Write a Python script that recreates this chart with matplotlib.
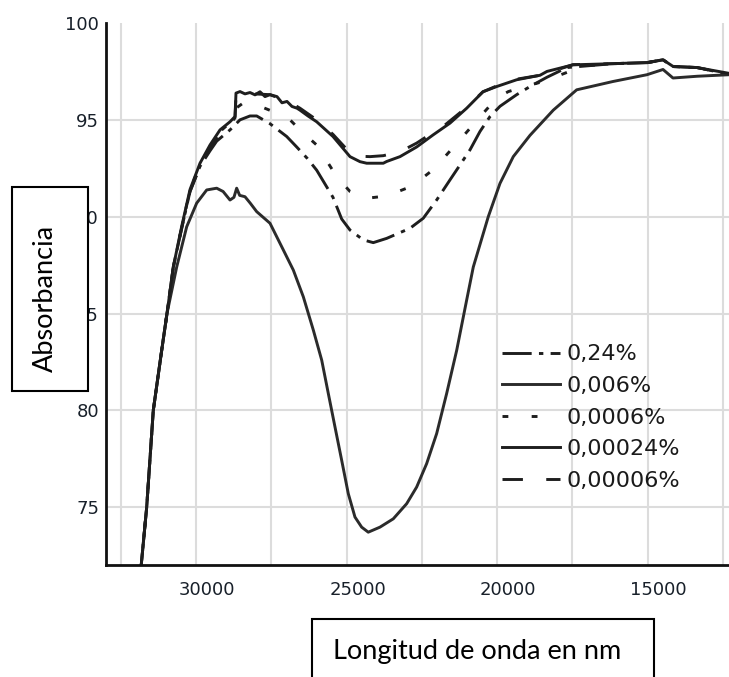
import matplotlib
matplotlib.use("Agg")
import matplotlib.pyplot as plt
import matplotlib.patches as patches
import matplotlib.transforms as mtransforms

# x axis runs from high to low values; absorbance
x_top = [31880, 31637, 31418, 31139, 30963, 30754, 30475, 30199, 29867, 29535,
         29203, 28871, 28705, 28672, 28539, 28373, 28207, 28041, 27875, 27709,
         27543, 27311, 27145, 26979, 26813, 26647, 26547, 26282, 25993, 25452,
         24887, 24555, 24333, 23782, 23669, 23227, 22673, 22130, 21567, 21013,
         20472, 20016, 19352, 18580, 18347, 17483, 16154, 15026, 14495, 14163,
         13366, 12300]
y_top = [71.0, 75.0, 80.0, 83.1, 85.0, 87.4, 89.5, 91.4, 92.76, 93.7,
         94.48, 94.9, 95.17, 96.38, 96.46, 96.34, 96.41, 96.29, 96.45, 96.2,
         96.3, 96.2, 95.88, 95.95, 95.69, 95.6, 95.5, 95.2, 94.9, 94.14,
         93.1, 92.84, 92.76, 92.76, 92.85, 93.1, 93.6, 94.22, 94.83, 95.6,
         96.45, 96.72, 97.07, 97.3, 97.5, 97.84, 97.9, 97.96, 98.1, 97.76,
         97.7, 97.4]

x_dashed = [31880, 31637, 31418, 31139, 30963, 30754, 30475, 30199, 29867, 29535,
            29203, 28871, 28705, 28672, 28207, 27543, 26879, 26547, 25993, 25452,
            24887, 24555, 24222, 23782, 23227, 22673, 22130, 21800, 21013, 20472,
            20016, 19352, 18580, 17483, 16154, 15026, 14495, 14163, 13366, 12300]
y_dashed = [71.0, 75.0, 80.0, 83.1, 85.0, 87.4, 89.4, 91.3, 92.6, 93.5,
            94.3, 94.8, 95.1, 96.2, 96.35, 96.3, 95.9, 95.6, 95.0, 94.25,
            93.3, 93.12, 93.1, 93.15, 93.35, 93.8, 94.35, 94.65, 95.65, 96.45,
            96.75, 97.1, 97.3, 97.85, 97.9, 97.95, 98.1, 97.75, 97.7, 97.35]

x_dotted = [31880, 31637, 31418, 31139, 30963, 30754, 30475, 30199, 29867, 29535,
            29203, 28871, 28705, 28672, 28440, 27875, 27321, 26879, 26547, 25993,
            25329, 24887, 24333, 23669, 23005, 22563, 22065, 21677, 21235, 20847,
            20460, 20017, 19629, 18900, 18468, 17600, 17000, 16154, 15026, 14495,
            14163, 13366, 12300]
y_dotted = [71.0, 75.0, 80.0, 83.1, 85.0, 87.4, 89.45, 91.35, 92.7, 93.6,
            94.4, 94.85, 95.1, 95.6, 95.86, 95.7, 95.35, 95.0, 94.48, 93.7,
            92.07, 91.3, 90.95, 91.07, 91.47, 91.9, 92.5, 93.2, 93.97, 94.66,
            95.35, 96.12, 96.46, 96.8, 96.98, 97.5, 97.8, 97.9, 97.95, 98.1,
            97.75, 97.7, 97.35]

x_dashdot = [31880, 31637, 31418, 31139, 30963, 30754, 30475, 30199, 29867, 29535,
             29313, 28871, 28539, 28207, 27985, 27543, 26989, 26657, 26300, 25993,
             25452, 25163, 24887, 24446, 24114, 23669, 22895, 22454, 22010, 21567,
             21235, 20903, 20571, 20239, 19907, 19353, 18911, 18347, 17683, 16154,
             15026, 14495, 14163, 13366, 12300]
y_dashdot = [71.0, 75.0, 80.0, 83.1, 85.0, 87.4, 89.4, 91.3, 92.6, 93.4,
             93.9, 94.48, 95.0, 95.2, 95.2, 94.8, 94.14, 93.6, 93.0, 92.4,
             91.0, 89.88, 89.31, 88.8, 88.66, 88.88, 89.4, 89.92, 90.86, 91.9,
             92.67, 93.45, 94.4, 95.17, 95.7, 96.3, 96.72, 97.2, 97.7, 97.9,
             97.95, 98.1, 97.75, 97.7, 97.35]

x_deep = [31880, 31637, 31418, 31139, 30963, 30641, 30309, 29977, 29645, 29313,
          29100, 28871, 28740, 28650, 28550, 28373, 28200, 27985, 27543, 27100,
          26768, 26436, 26104, 25826, 25607, 25385, 25163, 24944, 24722, 24500,
          24281, 23892, 23450, 23006, 22674, 22342, 22010, 21678, 21345, 21013,
          20794, 20296, 19907, 19466, 18911, 18138, 17361, 16800, 16156, 15027,
          14495, 14164, 13366, 12300]
y_deep = [71.0, 75.0, 80.0, 83.1, 85.0, 87.4, 89.48, 90.7, 91.38, 91.47,
          91.3, 90.86, 91.0, 91.47, 91.1, 91.03, 90.7, 90.26, 89.66, 88.28,
          87.24, 85.86, 84.14, 82.59, 80.87, 79.14, 77.42, 75.7, 74.49, 73.97,
          73.71, 73.97, 74.4, 75.18, 76.04, 77.25, 78.8, 80.87, 83.1, 85.7,
          87.4, 90.0, 91.72, 93.1, 94.2, 95.5, 96.55, 96.75, 96.98, 97.33,
          97.6, 97.16, 97.25, 97.33]

labels = ["0,24%", "0,006%", "0,0006%", "0,00024%", "0,00006%"]
x_major = [30000, 25000, 20000, 15000]
x_minor = [12500, 15000, 17500, 20000, 22500, 25000, 27500, 30000, 32500]
y_major = [75, 80, 85, 90, 95, 100]
y_minor = [75, 80, 85, 90, 95]

W, H = 729, 677
fig = plt.figure(figsize=(W / 100, H / 100), dpi=100)
ax = fig.add_axes([106 / W, (H - 565.3) / H, (W - 106) / W, (565.3 - 23) / H])

lc = "#1e1e1e"
lw = 2.1
ax.plot(x_dashdot, y_dashdot, color=lc, lw=lw, dashes=(10, 2.5, 1.5, 2.5), label=labels[0])
ax.plot(x_deep, y_deep, color="#2b2b2b", lw=lw, label=labels[1])
ax.plot(x_dotted, y_dotted, color=lc, lw=lw, dashes=(2, 8), label=labels[2])
ax.plot(x_top, y_top, color=lc, lw=lw, label=labels[3])
ax.plot(x_dashed, y_dashed, color=lc, lw=lw, dashes=(7, 8), label=labels[4])

ax.set_xlim(32988, 12304)
ax.set_ylim(72, 100)

ax.xaxis.remove_overlapping_locs = False
ax.yaxis.remove_overlapping_locs = False
ax.set_xticks(x_major)
ax.set_xticks(x_minor, minor=True)
ax.set_yticks(y_major)
ax.set_yticks(y_minor, minor=True)
ax.set_xticklabels([str(v) for v in x_major])
ax.set_yticklabels([str(v) for v in y_major])
ax.grid(which="minor", color="#dcdcdc", lw=1.5)
ax.grid(which="major", visible=False)
ax.set_axisbelow(True)
ax.tick_params(which="both", length=0)
ax.tick_params(axis="x", pad=11.5, labelsize=13, labelcolor="#18202a")
ax.tick_params(axis="y", pad=5, labelsize=13, labelcolor="#18202a")

offset = mtransforms.ScaledTranslation(11 / 100, 0, fig.dpi_scale_trans)
for lab in ax.get_xticklabels():
    lab.set_transform(lab.get_transform() + offset)

for s in ["top", "right"]:
    ax.spines[s].set_visible(False)
for s in ["left", "bottom"]:
    ax.spines[s].set_linewidth(2)
    ax.spines[s].set_color("#111111")

leg = ax.legend(loc="upper left", bbox_to_anchor=(502 / W, (H - 344.5) / H),
                bbox_transform=fig.transFigure, frameon=False, fontsize=16,
                handlelength=2.6, handletextpad=0.3, labelspacing=0.52,
                borderpad=0, borderaxespad=0)
for t in leg.get_texts():
    t.set_color("#1a1a1a")

# text boxes for the axis titles
box1 = patches.Rectangle((12 / W, (H - 391) / H), 76 / W, 204 / H,
                         transform=fig.transFigure, facecolor="white",
                         edgecolor="black", lw=1.5, zorder=10)
fig.add_artist(box1)
fig.text(45 / W, (H - 298) / H, "Absorbancia", rotation=90, ha="center",
         va="center", fontsize=19.5, family="Lato", zorder=11)

box2 = patches.Rectangle((312 / W, -10 / H), 342 / W, (H - 619 + 10) / H,
                         transform=fig.transFigure, facecolor="white",
                         edgecolor="black", lw=1.5, zorder=10)
fig.add_artist(box2)
fig.text(333 / W, (H - 659) / H, "Longitud de onda en nm", ha="left",
         va="baseline", fontsize=19.5, family="Lato", zorder=11)

fig.savefig("out.png", dpi=100)
